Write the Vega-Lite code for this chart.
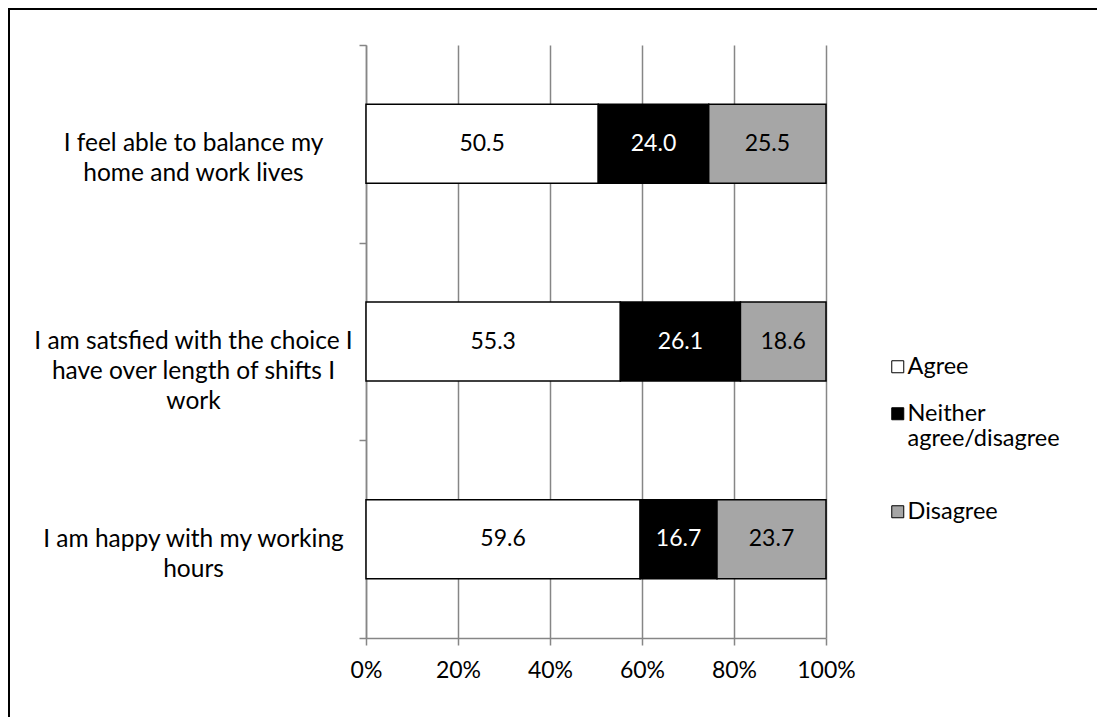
{
  "$schema": "https://vega.github.io/schema/vega-lite/v6.json",
  "width": 1100,
  "height": 720,
  "autosize": {"type": "none"},
  "padding": {"left": 9, "top": 9, "right": 0, "bottom": 0},
  "background": "white",
  "config": {
    "view": {"stroke": "black", "strokeWidth": 2},
    "font": "Lato",
    "text": {"font": "Lato"}
  },
  "data": {
    "values": [
      {"statement": "I feel able to balance my home and work lives", "response": "Agree", "rank": 1, "value": 50.5},
      {"statement": "I feel able to balance my home and work lives", "response": "Neither agree/disagree", "rank": 2, "value": 24.0},
      {"statement": "I feel able to balance my home and work lives", "response": "Disagree", "rank": 3, "value": 25.5},
      {"statement": "I am satsfied with the choice I have over length of shifts I work", "response": "Agree", "rank": 1, "value": 55.3},
      {"statement": "I am satsfied with the choice I have over length of shifts I work", "response": "Neither agree/disagree", "rank": 2, "value": 26.1},
      {"statement": "I am satsfied with the choice I have over length of shifts I work", "response": "Disagree", "rank": 3, "value": 18.6},
      {"statement": "I am happy with my working hours", "response": "Agree", "rank": 1, "value": 59.6},
      {"statement": "I am happy with my working hours", "response": "Neither agree/disagree", "rank": 2, "value": 16.7},
      {"statement": "I am happy with my working hours", "response": "Disagree", "rank": 3, "value": 23.7}
    ]
  },
  "encoding": {
    "y": {
      "field": "statement",
      "type": "nominal",
      "sort": [
        "I feel able to balance my home and work lives",
        "I am satsfied with the choice I have over length of shifts I work",
        "I am happy with my working hours"
      ],
      "scale": {"range": [36, 629], "paddingInner": 0, "paddingOuter": 0},
      "axis": {
        "title": null,
        "offset": -357,
        "tickBand": "extent",
        "tickSize": 7,
        "tickWidth": 1.5,
        "tickColor": "#868686",
        "domainColor": "#868686",
        "domainWidth": 1.5,
        "grid": false,
        "labelAlign": "center",
        "labelBaseline": "middle",
        "labelPadding": 166,
        "labelLimit": 500,
        "labelLineHeight": 30,
        "labelFontSize": 24.5,
        "labelFont": "Lato",
        "labelColor": "black",
        "labelExpr": "datum.value == 'I feel able to balance my home and work lives' ? ['I feel able to balance my', 'home and work lives'] : datum.value == 'I am happy with my working hours' ? ['I am happy with my working', 'hours'] : datum.value == 'I am satsfied with the choice I have over length of shifts I work' ? ['I am satsfied with the choice I', 'have over length of shifts I', 'work'] : ''"
      }
    }
  },
  "resolve": {"axis": {"x": "independent"}},
  "layer": [
    {
      "mark": {"type": "bar", "height": {"band": 0.4}, "stroke": "black", "strokeWidth": 1.5},
      "encoding": {
        "x": {
          "field": "value",
          "type": "quantitative",
          "stack": "zero",
          "scale": {"domain": [0, 100], "range": [357, 817], "nice": false, "zero": true},
          "axis": {
            "title": null,
            "orient": "bottom",
            "offset": -91,
            "values": [0, 20, 40, 60, 80, 100],
            "labelExpr": "datum.value + '%'",
            "labelFlush": false,
            "grid": false,
            "domainColor": "#868686",
            "domainWidth": 1.5,
            "tickColor": "#868686",
            "tickWidth": 1.5,
            "tickSize": 7,
            "labelFontSize": 23,
            "labelFont": "Lato",
            "labelColor": "black",
            "labelPadding": 14
          }
        },
        "color": {
          "field": "response",
          "type": "nominal",
          "scale": {
            "domain": ["Agree", "Neither agree/disagree", "Disagree"],
            "range": ["#ffffff", "#000000", "#a6a6a6"]
          },
          "legend": {
            "title": null,
            "orient": "none",
            "legendX": 877,
            "legendY": 346,
            "padding": 0,
            "symbolType": "square",
            "symbolSize": 144,
            "symbolStrokeColor": "black",
            "symbolStrokeWidth": 1,
            "labelFontSize": 23.5,
            "labelFont": "Lato",
            "labelColor": "black",
            "labelOffset": -2,
            "labelLimit": 300,
            "labelLineHeight": 29,
            "rowPadding": 22,
            "labelExpr": "datum.label == 'Neither agree/disagree' ? ['Neither', 'agree/disagree', ''] : datum.label"
          }
        },
        "order": {"field": "rank"}
      }
    },
    {
      "mark": {"type": "text", "fontSize": 23, "font": "Lato"},
      "encoding": {
        "x": {
          "field": "value",
          "type": "quantitative",
          "stack": "zero",
          "bandPosition": 0.5,
          "axis": {
            "title": null,
            "orient": "top",
            "values": [0, 20, 40, 60, 80, 100],
            "grid": true,
            "gridColor": "#868686",
            "gridWidth": 1.5,
            "domain": false,
            "ticks": false,
            "labels": false
          }
        },
        "detail": {"field": "response"},
        "order": {"field": "rank"},
        "text": {"field": "value", "type": "quantitative", "format": ".1f"},
        "color": {
          "condition": {"test": "datum.response == 'Neither agree/disagree'", "value": "white"},
          "value": "black"
        }
      }
    }
  ]
}
